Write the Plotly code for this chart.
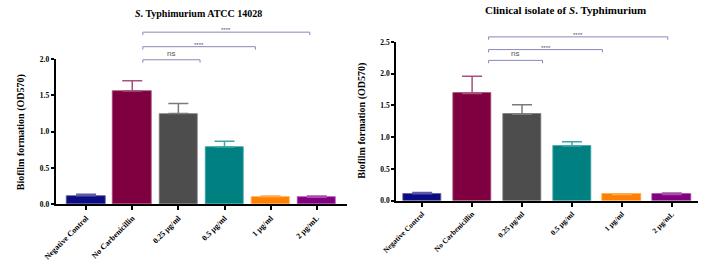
import plotly.graph_objects as go

W, H = 702, 263

categories = ["Negative Control", "No Carbenicillin", "0.25 µg/ml", "0.5 µg/ml", "1 µg/ml", "2 µg/mL"]
bar_colors = ["#0b0b82", "#7f0040", "#4d4d4d", "#008080", "#ff8000", "#800080"]
err_colors = ["#5a5aa8", "#a8507a", "#7a7a7a", "#40a6a6", "#ffa850", "#a850a8"]

# Left panel: S. Typhimurium ATCC 14028
left_means = [0.12, 1.56, 1.25, 0.79, 0.105, 0.10]
left_err = [0.02, 0.14, 0.14, 0.08, 0.01, 0.015]
left_yticks = [0.0, 0.5, 1.0, 1.5, 2.0]
left_br_start = [1.23, 1.23, 1.23]
left_br_end = [2.47, 3.67, 4.85]
left_br_height = [1.99, 2.17, 2.37]
left_br_label = ["ns", "****", "****"]

# Right panel: clinical isolate
right_means = [0.11, 1.69, 1.36, 0.86, 0.10, 0.10]
right_err = [0.02, 0.27, 0.15, 0.07, 0.01, 0.02]
right_yticks = [0.0, 0.5, 1.0, 1.5, 2.0, 2.5]
right_br_start = [1.33, 1.33, 1.33]
right_br_end = [2.41, 3.61, 4.92]
right_br_height = [2.21, 2.38, 2.58]
right_br_label = ["ns", "****", "****"]

SERIF = "Liberation Serif"
BR_COLOR = "#8a86bd"

fig = go.Figure()

def px_x(p):
    return p / W

def px_y(p):
    return (H - p) / H

panels = [
    dict(xa="x", ya="y", ya2="y3", means=left_means, err=left_err, width=0.83,
         xdom=[px_x(42.5), px_x(340)], xr=[-0.66, 5.66],
         ydom=[px_y(207.5), px_y(57)], yr=[0, 2.0], yticks=left_yticks,
         y2top=px_y(12), bs=left_br_start, be=left_br_end, bh=left_br_height, bl=left_br_label,
         drop=0.04, tfs=8),
    dict(xa="x2", ya="y2", ya2="y4", means=right_means, err=right_err, width=0.77,
         xdom=[px_x(390), px_x(697.7)], xr=[-0.52, 5.52],
         ydom=[px_y(203.7), px_y(39.3)], yr=[0, 2.5], yticks=right_yticks,
         y2top=px_y(12), bs=right_br_start, be=right_br_end, bh=right_br_height, bl=right_br_label,
         drop=0.045, tfs=7.5),
]

layout_axes = {}
annotations = []
for p in panels:
    xs = list(range(len(categories)))
    for i, (m, e) in enumerate(zip(p["means"], p["err"])):
        fig.add_trace(go.Bar(
            x=[xs[i]], y=[m], width=p["width"], xaxis=p["xa"], yaxis=p["ya"],
            marker=dict(color=bar_colors[i], line=dict(color=err_colors[i], width=0.8)),
            error_y=dict(type="data", symmetric=False, array=[e], arrayminus=[0],
                         color=err_colors[i], thickness=1.5, width=10),
            showlegend=False, hoverinfo="skip"))
    xname = "xaxis" if p["xa"] == "x" else "xaxis2"
    yname = "yaxis" if p["ya"] == "y" else "yaxis2"
    y2name = "yaxis3" if p["ya2"] == "y3" else "yaxis4"
    layout_axes[xname] = dict(
        domain=p["xdom"], anchor=p["ya"], range=p["xr"],
        tickmode="array", tickvals=xs, ticktext=categories, tickangle=-45,
        ticks="outside", ticklen=4, tickwidth=1.5, tickcolor="black",
        showline=True, linewidth=2, linecolor="black", showgrid=False, zeroline=False,
        tickfont=dict(family=SERIF, size=p["tfs"], color="black", weight="bold"))
    layout_axes[yname] = dict(
        domain=p["ydom"], anchor=p["xa"], range=p["yr"],
        tickmode="array", tickvals=p["yticks"], ticktext=[f"{v:.1f}" for v in p["yticks"]],
        ticks="outside", ticklen=3, tickwidth=1.5, tickcolor="black",
        showline=True, linewidth=2, linecolor="black", showgrid=False, zeroline=False,
        tickfont=dict(family=SERIF, size=7.5, color="black", weight="bold"))
    scale = (p["yr"][1] - p["yr"][0]) / (p["ydom"][1] - p["ydom"][0])
    top = p["yr"][0] + scale * (p["y2top"] - p["ydom"][0])
    layout_axes[y2name] = dict(domain=[p["ydom"][0], p["y2top"]], anchor=p["xa"],
                               range=[p["yr"][0], top], visible=False)
    for s, e, h, lab in zip(p["bs"], p["be"], p["bh"], p["bl"]):
        fig.add_trace(go.Scatter(
            x=[s, s, e, e], y=[h - p["drop"], h, h, h - p["drop"]], mode="lines",
            line=dict(color=BR_COLOR, width=1), xaxis=p["xa"], yaxis=p["ya2"],
            showlegend=False, hoverinfo="skip"))
        if lab == "ns":
            annotations.append(dict(x=(s + e) / 2 - 0.02, y=h, xref=p["xa"], yref=p["ya2"],
                                    text=lab, showarrow=False, yanchor="bottom", yshift=0,
                                    font=dict(family="Liberation Sans", size=8, color="#555555")))
        else:
            annotations.append(dict(x=(s + e) / 2, y=h, xref=p["xa"], yref=p["ya2"],
                                    text=lab, showarrow=False, yanchor="bottom", yshift=-3,
                                    font=dict(family="Liberation Sans", size=6, color="#555566")))

annotations.append(dict(x=px_x(188.7), y=px_y(10), xref="paper", yref="paper",
                        text="<i>S</i>. Typhimurium ATCC 14028", showarrow=False,
                        xanchor="center", yanchor="middle",
                        font=dict(family=SERIF, size=10, color="black", weight="bold")))
annotations.append(dict(x=px_x(563), y=px_y(6.5), xref="paper", yref="paper",
                        text="Clinical isolate of <i>S</i>. Typhimurium", showarrow=False,
                        xanchor="center", yanchor="middle",
                        font=dict(family=SERIF, size=11, color="black", weight="bold")))
for xp, yp in [(8, 133), (355, 121)]:
    annotations.append(dict(x=px_x(xp), y=px_y(yp), xref="paper", yref="paper",
                            text="Biofilm formation (OD570)", showarrow=False, textangle=-90,
                            xanchor="center", yanchor="middle",
                            font=dict(family=SERIF, size=10, color="black", weight="bold")))

fig.update_layout(
    width=W, height=H, margin=dict(l=0, r=0, t=0, b=0),
    paper_bgcolor="white", plot_bgcolor="rgba(0,0,0,0)",
    bargap=0, annotations=annotations, **layout_axes)

fig.write_html("out.html")
